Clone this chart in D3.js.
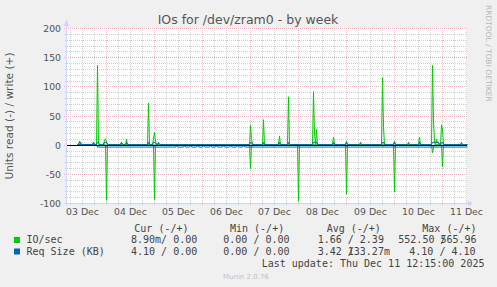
<!DOCTYPE html>
<html><head><meta charset="utf-8">
<script src="https://cdn.jsdelivr.net/npm/d3@7"></script>
<style>html,body{margin:0;padding:0;background:#f0f0f0;overflow:hidden}svg{display:block}</style>
</head><body>
<svg id="c" width="497" height="287"></svg>
<script>
// ---------------- data ----------------
const title = "IOs for /dev/zram0 - by week";
const yLabel = "Units read (-) / write (+)";
const watermark = "RRDTOOL / TOBI OETIKER";
const version = "Munin 2.0.76";
const lastUpdate = "Last update: Thu Dec 11 12:15:00 2025";
const yMajorTicks = [-100, -50, 0, 50, 100, 150, 200];
const xTickDates = ["12-03 00:00","12-04 00:00","12-05 00:00","12-06 00:00","12-07 00:00","12-08 00:00","12-09 00:00","12-10 00:00","12-11 00:00"];
const xTickLabels = ["03 Dec","04 Dec","05 Dec","06 Dec","07 Dec","08 Dec","09 Dec","10 Dec","11 Dec"];
const timeDomain = ["12-02 16:30", "12-11 00:30"];
const seriesNames = ["IO/sec", "Req Size (KB)"];
const seriesColors = ["#00cc00", "#0066b3"];
const legendHeaders = ["Cur (-/+)", "Min (-/+)", "Avg (-/+)", "Max (-/+)"];
const legendValues = [
  ["8.90m/ 0.00", "0.00 / 0.00", "1.66 / 2.39", "552.50 /565.96"],
  ["4.10 / 0.00", "0.00 / 0.00", "3.42 /133.27m", "4.10 / 4.10"]
];

// IO/sec write (+)
const ioWrite = [
["12-02 21:30",0],["12-02 22:00",0],["12-02 22:30",6],["12-02 23:00",3],["12-02 23:30",0],
["12-03 05:00",0],["12-03 05:30",4],["12-03 06:00",0],
["12-03 07:00",0],["12-03 07:30",136],["12-03 08:00",2],["12-03 08:30",0],
["12-03 10:30",0],["12-03 11:00",8],["12-03 11:30",10],["12-03 12:00",5],["12-03 12:30",0],
["12-03 19:00",0],["12-03 19:30",4],["12-03 20:00",0],
["12-03 21:30",0],["12-03 22:00",9],["12-03 22:30",0],
["12-04 08:30",0],["12-04 09:00",71],["12-04 09:30",0],
["12-04 11:00",0],["12-04 11:30",10],["12-04 12:00",21],["12-04 12:30",6],["12-04 13:00",0],
["12-04 13:30",0],["12-04 14:00",3],["12-04 14:30",0],
["12-06 11:30",0],["12-06 12:00",33],["12-06 12:30",10],["12-06 13:00",0],
["12-06 18:00",0],["12-06 18:30",43],["12-06 19:00",0],
["12-07 02:00",0],["12-07 02:30",15],["12-07 03:00",0],
["12-07 06:30",0],["12-07 07:00",82],["12-07 07:30",0],
["12-07 19:00",0],["12-07 19:30",91],["12-07 20:00",20],["12-07 20:30",0],["12-07 21:00",26],["12-07 21:30",0],
["12-08 05:00",0],["12-08 05:30",13],["12-08 06:00",0],
["12-08 11:30",0],["12-08 12:00",6],["12-08 12:30",0],
["12-09 05:30",0],["12-09 06:00",115],["12-09 06:30",30],["12-09 07:00",0],
["12-09 11:30",0],["12-09 12:00",6],["12-09 12:30",0],
["12-10 00:00",0],["12-10 00:30",13],["12-10 01:00",0],
["12-10 06:30",0],["12-10 07:00",136],["12-10 07:30",40],["12-10 08:00",5],["12-10 08:30",0],
["12-10 09:00",9],["12-10 09:30",3],["12-10 10:00",4],["12-10 10:30",0],
["12-10 11:00",0],["12-10 11:30",34],["12-10 12:00",25],["12-10 12:30",0],
["12-11 00:30",0]
];
// IO/sec read (-)
const ioRead = [
["12-02 21:30",0],
["12-03 07:00",0],["12-03 07:30",-3],["12-03 08:00",0],
["12-03 11:30",0],["12-03 12:00",-95],["12-03 12:30",0],
["12-04 11:30",0],["12-04 12:00",-94],["12-04 12:30",0],
["12-06 11:30",0],["12-06 12:00",-41],["12-06 12:30",0],
["12-07 11:30",0],["12-07 12:00",-97],["12-07 12:30",0],
["12-08 11:30",0],["12-08 12:00",-85],["12-08 12:30",0],
["12-09 11:30",0],["12-09 12:00",-81],["12-09 12:30",0],
["12-10 06:30",0],["12-10 07:00",-14],["12-10 07:30",-5],["12-10 08:00",0],
["12-10 11:30",0],["12-10 12:00",-38],["12-10 12:30",0],
["12-11 00:30",0]
];
// Req Size write (+)
const reqWrite = [
["12-02 21:30",0],["12-02 22:00",0],["12-02 22:30",4.1],["12-02 23:00",4.1],["12-02 23:30",0],
["12-03 05:00",0],["12-03 05:30",4.1],["12-03 06:00",0],
["12-03 07:00",0],["12-03 07:30",4.1],["12-03 08:00",4.1],["12-03 08:30",0],
["12-03 10:30",0],["12-03 11:00",4.1],["12-03 12:00",4.1],["12-03 12:30",0],
["12-03 19:00",0],["12-03 19:30",4.1],["12-03 20:00",0],
["12-03 21:30",0],["12-03 22:00",4.1],["12-03 22:30",0],
["12-04 08:30",0],["12-04 09:00",4.1],["12-04 09:30",0],
["12-04 11:00",0],["12-04 11:30",4.1],["12-04 12:30",4.1],["12-04 13:00",0],
["12-04 13:30",0],["12-04 14:00",4.1],["12-04 14:30",0],
["12-06 11:30",0],["12-06 12:00",4.1],["12-06 12:30",4.1],["12-06 13:00",0],
["12-06 18:00",0],["12-06 18:30",4.1],["12-06 19:00",0],
["12-07 02:00",0],["12-07 02:30",4.1],["12-07 03:00",0],
["12-07 06:30",0],["12-07 07:00",4.1],["12-07 07:30",0],
["12-07 19:00",0],["12-07 19:30",4.1],["12-07 21:00",4.1],["12-07 21:30",0],
["12-08 05:00",0],["12-08 05:30",4.1],["12-08 06:00",0],
["12-08 11:30",0],["12-08 12:00",4.1],["12-08 12:30",0],
["12-08 18:30",0],["12-08 19:00",4.1],["12-08 19:30",0],
["12-09 05:30",0],["12-09 06:00",4.1],["12-09 06:30",4.1],["12-09 07:00",0],
["12-09 11:30",0],["12-09 12:00",4.1],["12-09 12:30",0],
["12-09 18:30",0],["12-09 19:00",4.1],["12-09 19:30",0],
["12-10 00:00",0],["12-10 00:30",4.1],["12-10 01:00",0],
["12-10 06:30",0],["12-10 07:00",4.1],["12-10 10:00",4.1],["12-10 10:30",0],
["12-10 11:00",0],["12-10 11:30",4.1],["12-10 12:00",4.1],["12-10 12:30",0],
["12-10 21:00",0],["12-10 21:30",4.1],["12-10 22:00",0],
["12-11 00:30",0]
];
// Req Size read (-)
const reqRead = [
["12-02 21:30",0],["12-03 07:00",0],["12-03 07:30",-4.1],
["12-04 22:30",-4.1],["12-04 23:00",-1],["12-04 23:30",-4.1],
["12-05 02:30",-4.1],["12-05 03:00",-1],["12-05 03:30",-4.1],
["12-05 05:30",-4.1],["12-05 06:00",-1],["12-05 06:30",-4.1],
["12-05 09:00",-4.1],["12-05 09:30",-1],["12-05 10:00",-4.1],
["12-05 12:00",-4.1],["12-05 12:30",-1],["12-05 13:00",-4.1],
["12-05 15:30",-4.1],["12-05 16:00",-1],["12-05 16:30",-4.1],
["12-05 18:30",-4.1],["12-05 19:00",-1],["12-05 19:30",-4.1],
["12-05 22:00",-4.1],["12-05 22:30",-1],["12-05 23:00",-4.1],
["12-06 01:30",-4.1],["12-06 02:00",-1],["12-06 02:30",-4.1],
["12-06 05:00",-4.1],["12-06 05:30",-1],["12-06 06:00",-4.1],
["12-06 08:00",-4.1],["12-06 08:30",-1],["12-06 09:00",-4.1],
["12-11 00:30",-4.1]
];

// ---------------- drawing ----------------
const parse = d3.utcParse("%Y-%m-%d %H:%M");
const T = s => parse("2025-" + s);
const svg = d3.select("#c");
const L = 67, R = 467, TOP = 28, BOT = 203;

svg.append("rect").attr("width",497).attr("height",287).attr("fill","#f0f0f0");
svg.append("rect").attr("x",L).attr("y",TOP).attr("width",R-L).attr("height",BOT-TOP+1).attr("fill","#ffffff");

const x = d3.scaleUtc().domain(timeDomain.map(T)).range([L, R]);
const y = d3.scaleLinear().domain([-100, 200]).range([BOT, TOP]);
const px = t => Math.round(x(t)) + 0.5;
const py = v => Math.round(y(v)) + 0.5;

const minorC = "#d2d2d2", majorC = "#efb8b8";
const grid = svg.append("g");
// minor horizontal
d3.range(-100, 201, 10).filter(v => v % 50 !== 0).forEach(v => {
  grid.append("line").attr("x1",L-2).attr("x2",R).attr("y1",py(v)).attr("y2",py(v))
    .attr("stroke",minorC).attr("stroke-dasharray","1,1");
});
// minor vertical (6h)
const majors = d3.utcDay.range(T("12-02 12:00"), T("12-11 00:30")).map(d => d3.utcHour.offset(d, 12)).filter(d => d > x.domain()[0] && d < x.domain()[1]);
d3.utcHour.every(6).range(x.domain()[0], x.domain()[1]).filter(d => d.getUTCHours() !== 12).forEach(d => {
  grid.append("line").attr("x1",px(d)).attr("x2",px(d)).attr("y1",TOP).attr("y2",BOT+2)
    .attr("stroke",minorC).attr("stroke-dasharray","1,1");
});
// major horizontal
yMajorTicks.forEach(v => {
  grid.append("line").attr("x1",L-3).attr("x2",R).attr("y1",py(v)).attr("y2",py(v))
    .attr("stroke",majorC).attr("stroke-dasharray","1,1");
});
majors.forEach(d => {
  grid.append("line").attr("x1",px(d)).attr("x2",px(d)).attr("y1",TOP).attr("y2",BOT+3)
    .attr("stroke",majorC).attr("stroke-dasharray","1,1");
});

// axes
const axisColor = "#cfd6f8";
svg.append("line").attr("x1",L-0.5).attr("x2",L-0.5).attr("y1",BOT+3).attr("y2",23).attr("stroke",axisColor);
svg.append("path").attr("d",`M${L-3.5},26 L${L+2.5},26 L${L-0.5},20 Z`).attr("fill",axisColor);
svg.append("line").attr("x1",L-3).attr("x2",R+2).attr("y1",BOT+0.5).attr("y2",BOT+0.5).attr("stroke",axisColor);
svg.append("path").attr("d",`M${R+1},${BOT-2.5} L${R+1},${BOT+3.5} L${R+6},${BOT+0.5} Z`).attr("fill",axisColor);

// series
const line = d3.line().x(d => px(T(d[0]))).y(d => y(d[1]));
const plot = svg.append("g");
plot.append("path").attr("d", line(ioRead)).attr("fill","none").attr("stroke",seriesColors[0]).attr("stroke-width",1);
plot.append("path").attr("d", line(ioWrite)).attr("fill","none").attr("stroke",seriesColors[0]).attr("stroke-width",1);
plot.append("path").attr("d", line(reqRead)).attr("fill","none").attr("stroke",seriesColors[1]).attr("stroke-width",1);
plot.append("path").attr("d", line(reqWrite)).attr("fill","none").attr("stroke",seriesColors[1]).attr("stroke-width",1);
// zero rule
svg.append("line").attr("x1",L).attr("x2",R).attr("y1",py(0)).attr("y2",py(0)).attr("stroke","#000");

// text
const sans = "'DejaVu Sans', sans-serif", mono = "'DejaVu Sans Mono', monospace";
svg.append("text").attr("x",248).attr("y",23.5).attr("text-anchor","middle")
  .attr("font-family",sans).attr("font-size",12.5).attr("fill","#555").text(title);
svg.append("text").attr("transform","translate(13,116) rotate(-90)").attr("text-anchor","middle")
  .attr("font-family",sans).attr("font-size",10.6).attr("fill","#555").text(yLabel);
svg.append("text").attr("transform","translate(485.5,5) rotate(90)").attr("text-anchor","start")
  .attr("font-family",sans).attr("font-size",7.5).attr("fill","#b8b8b8").text(watermark);

yMajorTicks.forEach(v => {
  svg.append("text").attr("x",61).attr("y",py(v)+3.2).attr("text-anchor","end")
    .attr("font-family",sans).attr("font-size",9.3).attr("fill","#555").text(v);
});
xTickDates.forEach((s,i) => {
  svg.append("text").attr("x",px(T(s))).attr("y",215).attr("text-anchor","middle")
    .attr("font-family",sans).attr("font-size",9.3).attr("fill","#555").text(xTickLabels[i]);
});

// legend
const cw = 6.0;
function monoText(str, x0, yb) {
  // rrdtool layout: a slash between a blank and a digit does not advance
  let out = "", slashAt = -1, n = 0;
  for (let i = 0; i < str.length; i++) {
    const ch = str[i];
    if (ch === "/" && str[i-1] === " " && str[i+1] && str[i+1] !== " ") { slashAt = n; continue; }
    out += ch; n++;
  }
  svg.append("text").attr("x",x0).attr("y",yb).attr("font-family",mono).attr("font-size",10)
    .attr("fill","#444").attr("xml:space","preserve").style("white-space","pre").text(out);
  if (slashAt >= 0) svg.append("text").attr("x",x0 + slashAt*cw).attr("y",yb).attr("font-family",mono)
    .attr("font-size",10).attr("fill","#444").text("/");
}
const headerX = [134.3, 230, 326.7, 422.3];
legendHeaders.forEach((h,i) => monoText(h, headerX[i], 231.5));
const valueX = [[131, 223.3, 317.7, 398.3],[131, 223.3, 317.7, 409.3]];
const rowY = [243, 254.5];
seriesNames.forEach((name, r) => {
  svg.append("rect").attr("x",14).attr("y",rowY[r]-6).attr("width",6).attr("height",6).attr("fill",seriesColors[r]);
  monoText(name, 26.5, rowY[r]);
  legendValues[r].forEach((v,i) => monoText(v, valueX[r][i], rowY[r]));
});
monoText(lastUpdate, 261.7, 266.7);
svg.append("text").attr("x",223).attr("y",279).attr("font-family",sans).attr("font-size",7)
  .attr("fill","#c0c0c0").text(version);
</script>
</body></html>
